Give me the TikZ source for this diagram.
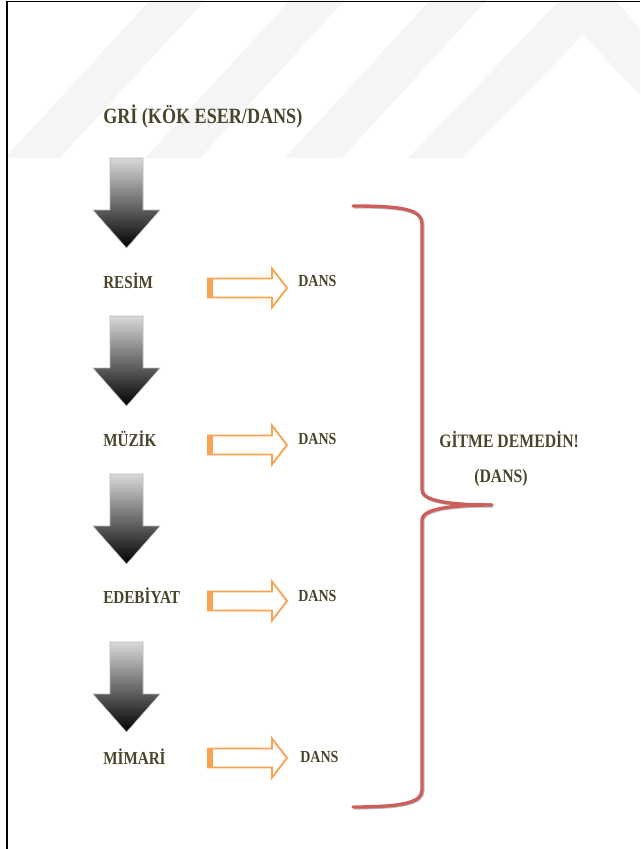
\documentclass[tikz,border=0pt]{standalone}
\usepackage{fontspec}
\setmainfont{Liberation Serif}
\newfontfamily\lblfont{Liberation Serif}[FakeStretch=0.83]
\usetikzlibrary{positioning,calc}

\definecolor{textbrown}{HTML}{4A452A}
\definecolor{arroworange}{HTML}{F9A352}
\definecolor{bracered}{HTML}{CD5F5A}
\definecolor{markgray}{HTML}{F5F5F5}

\begin{document}
\begin{tikzpicture}[
  x=0.025cm, y=-0.025cm,
  lbl/.style={anchor=west, inner sep=0pt, text=textbrown,
              font=\lblfont\bfseries\fontsize{13}{15}\selectfont},
  ttl/.style={lbl, font=\lblfont\bfseries\fontsize{15.5}{18}\selectfont},
  dans/.style={lbl, font=\lblfont\bfseries\fontsize{12}{14}\selectfont},
  note/.style={lbl, font=\lblfont\bfseries\fontsize{13.5}{16}\selectfont},
  downarr/.style={top color=gray!30, bottom color=black, draw=gray!55, line width=0.4pt},
  hollow/.style={draw=arroworange, line width=1.3pt, fill=white, line join=miter},
  brace/.style={draw=bracered, line width=2.4pt, line cap=round,
                preaction={draw=black!25, line width=2.4pt,
                           transform canvas={shift={(0.6pt,-0.6pt)}}}},
  stripe/.style={fill=markgray, draw=none}
]
\useasboundingbox (0,0) rectangle (640,849);

% faint watermark
\fill[stripe] (150,0) -- (205,0) -- (60,158) -- (5,158) -- cycle;
\fill[stripe] (290,0) -- (345,0) -- (200,158) -- (145,158) -- cycle;
\fill[stripe] (430,0) -- (487,0) -- (342,158) -- (285,158) -- cycle;
\fill[stripe] (408,158) -- (560,0) -- (615,0) -- (640,28) -- (640,95)
  -- (583,35) -- (463,158) -- cycle;

% page frame
\draw[line width=1pt] (7,849) -- (7,1.5) -- (640,1.5);

% gray down arrows
\foreach \t in {158,316,474,642}{
  \shade[downarr] (110,\t) -- (143,\t) -- (143,\t+52) -- (160,\t+52)
    -- (126.5,\t+90) -- (93,\t+52) -- (110,\t+52) -- cycle;
}

% labels
\node[ttl] (gri) at (103,116) {GRİ (KÖK ESER/DANS)};
\node[lbl] (resim) at (103,281) {RESİM};
\node[lbl] (muzik) at (103,439) {MÜZİK};
\node[lbl] (edebiyat) at (103,596) {EDEBİYAT};
\node[lbl] (mimari) at (103,757) {MİMARİ};

\node[dans] (dans1) at (298,281) {DANS};
\node[dans] (dans2) at (298,439) {DANS};
\node[dans] (dans3) at (298,596) {DANS};
\node[dans] (dans4) at (300,757) {DANS};

\node[note] (gitme) at (439,439) {GİTME DEMEDİN!};
\node[note] (gitmedans) at (474,478) {(DANS)};

% hollow orange arrows
\foreach \y in {288,445,601,758}{
  \coordinate (o) at (208,\y);
  \draw[hollow] (o) ++(0,-9.5) -- ++(64,0) -- ++(0,-10) -- ++(15,19.5)
    -- ++(-15,19.5) -- ++(0,-10) -- ++(-64,0) -- cycle;
  \fill[arroworange] (o) ++(0,-9.5) rectangle ++(5,19);
}

% red brace
\draw[brace] (353,206) .. controls (405,206) and (422,210) .. (422,224)
  -- (422,490) .. controls (422,500) and (445,505) .. (492,505);
\draw[brace] (492,505) .. controls (445,505) and (422,510) .. (422,520)
  -- (422,790) .. controls (422,802) and (405,807) .. (353,807);
\end{tikzpicture}
\end{document}
